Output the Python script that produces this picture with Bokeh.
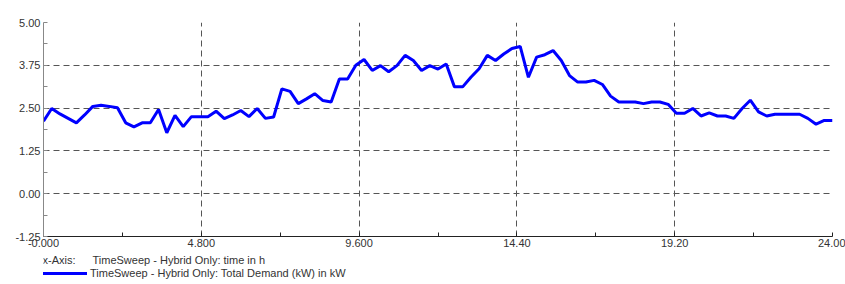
from bokeh.plotting import figure
from bokeh.layouts import column
from bokeh.models import Range1d, FixedTicker, Label, Legend, LegendItem
from bokeh.embed import file_html
from bokeh.resources import INLINE

# time in h
hours = [0.00, 0.25, 0.50, 0.75, 1.00, 1.25, 1.50, 1.75, 2.00, 2.25, 2.50, 2.75,
         3.00, 3.25, 3.50, 3.75, 4.00, 4.25, 4.50, 4.75, 5.00, 5.25, 5.50, 5.75,
         6.00, 6.25, 6.50, 6.75, 7.00, 7.25, 7.50, 7.75, 8.00, 8.25, 8.50, 8.75,
         9.00, 9.25, 9.50, 9.75, 10.00, 10.25, 10.50, 10.75, 11.00, 11.25, 11.50, 11.75,
         12.00, 12.25, 12.50, 12.75, 13.00, 13.25, 13.50, 13.75, 14.00, 14.25, 14.50, 14.75,
         15.00, 15.25, 15.50, 15.75, 16.00, 16.25, 16.50, 16.75, 17.00, 17.25, 17.50, 17.75,
         18.00, 18.25, 18.50, 18.75, 19.00, 19.25, 19.50, 19.75, 20.00, 20.25, 20.50, 20.75,
         21.00, 21.25, 21.50, 21.75, 22.00, 22.25, 22.50, 22.75, 23.00, 23.25, 23.50, 23.75,
         24.00]
# Total Demand (kW)
demand = [2.12, 2.49, 2.33, 2.20, 2.07, 2.30, 2.55, 2.58, 2.55, 2.51, 2.07, 1.95,
          2.07, 2.07, 2.46, 1.78, 2.29, 1.96, 2.25, 2.25, 2.25, 2.41, 2.19, 2.30,
          2.43, 2.25, 2.49, 2.20, 2.24, 3.06, 2.99, 2.63, 2.77, 2.92, 2.72, 2.68,
          3.35, 3.35, 3.75, 3.92, 3.60, 3.74, 3.56, 3.74, 4.04, 3.89, 3.60, 3.74,
          3.64, 3.79, 3.12, 3.12, 3.40, 3.65, 4.04, 3.89, 4.08, 4.24, 4.30, 3.40,
          3.99, 4.06, 4.18, 3.89, 3.45, 3.26, 3.26, 3.31, 3.19, 2.85, 2.68, 2.68,
          2.68, 2.63, 2.68, 2.68, 2.61, 2.35, 2.35, 2.49, 2.27, 2.36, 2.27, 2.27,
          2.20, 2.49, 2.73, 2.39, 2.27, 2.32, 2.32, 2.32, 2.32, 2.20, 2.03, 2.14,
          2.14]

x_ticks = [0.0, 4.8, 9.6, 14.4, 19.2, 24.0]
x_tick_labels = ["-0.000", "4.800", "9.600", "14.40", "19.20", "24.00"]
x_minor = [2.4, 7.2, 12.0, 16.8, 21.6]
y_ticks = [-1.25, 0.0, 1.25, 2.5, 3.75, 5.0]
y_tick_labels = ["-1.25", "0.00", "1.25", "2.50", "3.75", "5.00"]
y_minor = [-0.625, 0.625, 1.875, 3.125, 4.375]

x_axis_name = "TimeSweep - Hybrid Only: time in h"
series_name = "TimeSweep - Hybrid Only: Total Demand (kW) in kW"

FONT = "Liberation Sans"
TXT = "#333333"

p = figure(width=845, height=253, output_backend="svg", toolbar_location=None,
           x_range=Range1d(0, 24), y_range=Range1d(-1.25, 5),
           min_border_left=43, min_border_right=13, min_border_top=22,
           min_border_bottom=17)
p.outline_line_color = None

p.line(hours, demand, line_color="#0000FF", line_width=3)

for ax, ticks, labels, minor in ((p.xaxis[0], x_ticks, x_tick_labels, x_minor),
                                 (p.yaxis[0], y_ticks, y_tick_labels, y_minor)):
    ax.ticker = FixedTicker(ticks=ticks, minor_ticks=minor)
    ax.major_label_overrides = dict(zip(ticks, labels))
    ax.major_label_text_font = FONT
    ax.major_label_text_font_size = "11px"
    ax.major_label_text_color = TXT
    ax.major_tick_in = 4
    ax.major_tick_out = 0
    ax.minor_tick_in = 4
    ax.minor_tick_out = 0
    ax.major_label_standoff = 3

p.xaxis.major_label_standoff = 2
p.xaxis.axis_line_color = "#222222"
p.xaxis.major_tick_line_color = "#222222"
p.xaxis.minor_tick_line_color = "#222222"
p.yaxis.axis_line_color = "#888888"
p.yaxis.major_tick_line_color = "#888888"
p.yaxis.minor_tick_line_color = "#888888"

p.xgrid.ticker = FixedTicker(ticks=x_ticks)
p.ygrid.ticker = FixedTicker(ticks=y_ticks)
for g in (p.xgrid[0], p.ygrid[0]):
    g.grid_line_color = "#555555"
    g.grid_line_dash = "6 4"
    g.grid_line_width = 1
    g.grid_line_alpha = 1.0

# legend strip below the chart
q = figure(width=845, height=31, output_backend="svg", toolbar_location=None,
           x_range=Range1d(0, 1), y_range=Range1d(0, 1),
           x_axis_type=None, y_axis_type=None,
           min_border_left=0, min_border_right=0, min_border_top=0,
           min_border_bottom=0)
q.grid.visible = False
q.outline_line_color = None
# legend-only renderer, kept outside the visible range
sample = q.line([0, 1], [-5, -5], line_color="#0000FF", line_width=3)

q.add_layout(Label(x=-1, y=25, x_units="screen", y_units="screen", text="x-Axis:",
                   text_font=FONT, text_font_size="11px", text_color=TXT,
                   text_baseline="middle"))
q.add_layout(Label(x=49, y=25, x_units="screen", y_units="screen", text=x_axis_name,
                   text_font=FONT, text_font_size="11px", text_color=TXT,
                   text_baseline="middle"))

legend = Legend(items=[LegendItem(label=series_name, renderers=[sample])],
                location=(-1, 4), padding=0, margin=0, spacing=0,
                glyph_width=45, glyph_height=14, label_standoff=3,
                label_height=14,
                label_text_font=FONT, label_text_font_size="11px",
                label_text_color=TXT, border_line_color=None,
                background_fill_alpha=0)
q.add_layout(legend)

layout = column(p, q, spacing=0)
open("out.html", "w").write(file_html(layout, INLINE))
